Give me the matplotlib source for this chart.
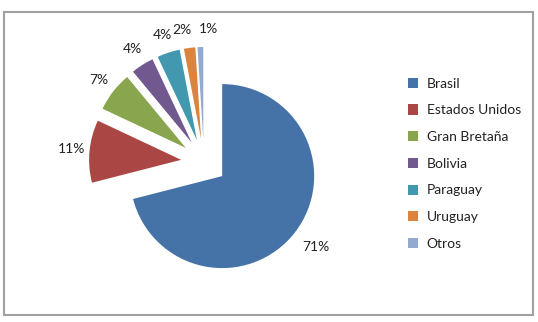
import matplotlib
matplotlib.use('Agg')
import matplotlib.pyplot as plt
from matplotlib.patches import Rectangle

plt.rcParams['font.family'] = ['Lato', 'DejaVu Sans']

# data
paises = ['Brasil', 'Estados Unidos', 'Gran Bretaña', 'Bolivia', 'Paraguay', 'Uruguay', 'Otros']
porcentajes = [71, 11, 7, 4, 4, 2, 1]
colores = ['#4572A7', '#AA4643', '#89A54E', '#71588F', '#4198AF', '#DB843D', '#93A9CF']

fig = plt.figure(figsize=(5.38, 3.22), dpi=100)

# outer chart frame
fig.patches.append(Rectangle((4 / 538, 7 / 322), 529 / 538, 303 / 322,
                             transform=fig.transFigure, fill=False,
                             edgecolor='#a0a0a0', linewidth=1.5))

ax = fig.add_axes([0, 0, 1, 1])
wedges, texts, autotexts = ax.pie(porcentajes, colors=colores, startangle=90,
                                  counterclock=False, explode=[0.25] * len(porcentajes),
                                  autopct='%1.0f%%', pctdistance=1.2,
                                  wedgeprops={'linewidth': 0},
                                  textprops={'fontsize': 10, 'color': '#222222'})

# nudge a few labels the way the original has them
x, y = autotexts[0].get_position()
autotexts[0].set_position((x * 1.06, y * 1.04))
x, y = autotexts[5].get_position()
autotexts[5].set_position((x - 0.06, y))
x, y = autotexts[6].get_position()
autotexts[6].set_position((x + 0.09, y))

# center of pie at pixel (204, 162), radius 92 px
r = 92.0
ax.set_xlim(-204 / r, (538 - 204) / r)
ax.set_ylim(-(322 - 162) / r, 162 / r)
ax.set_aspect('auto')
ax.axis('off')

leg = ax.legend(wedges, paises, loc='upper left', bbox_to_anchor=(0.758, 0.759),
                bbox_transform=fig.transFigure, frameon=False, fontsize=10,
                handlelength=0.75, handleheight=0.75, handletextpad=0.6,
                labelspacing=1.06, borderpad=0, borderaxespad=0)
for t in leg.get_texts():
    t.set_color('#222222')

fig.savefig('out.png', dpi=100)
